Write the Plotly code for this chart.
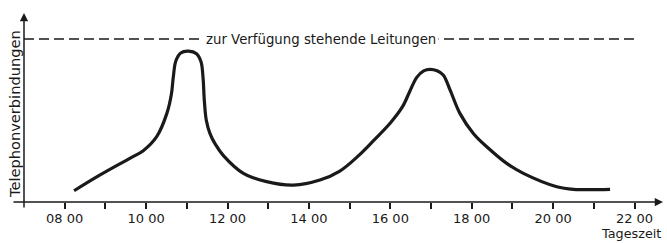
import plotly.graph_objects as go

# --- data ---
hours = [8.23, 8.87, 9.60, 9.93, 10.26, 10.51, 10.62, 10.67, 10.73, 10.85, 11.04, 11.24,
         11.35, 11.40, 11.43, 11.48, 11.57, 11.70, 11.90, 12.39, 12.96, 13.62, 14.27,
         14.76, 15.20, 15.60, 16.00, 16.30, 16.48, 16.65, 16.82, 16.98, 17.15, 17.30,
         17.47, 17.71, 18.04, 18.37, 18.86, 19.27, 20.09, 20.50, 21.40]
connections = [6.9, 16.6, 26.8, 31.5, 40.1, 54.4, 66.0, 77.0, 86.5, 91.5, 92.6, 91.0,
               86.0, 76.0, 62.6, 50.0, 42.0, 35.5, 28.5, 17.6, 12.5, 10.4, 13.5,
               19.0, 28.0, 38.0, 48.5, 58.5, 68.0, 76.5, 80.5, 81.4, 80.5, 77.9,
               68.7, 54.4, 42.1, 33.9, 23.7, 17.6, 9.4, 7.8, 7.8]
capacity = 100
capacity_label = "zur Verfügung stehende Leitungen"
tick_hours = list(range(8, 23))
tick_labels = [f"{h:02d} 00" if h % 2 == 0 else "" for h in tick_hours]
x_title = "Tageszeit"
y_title = "Telephonverbindungen"

FONT = "DejaVu Sans"
INK = "#1a1a1a"

fig = go.Figure()
fig.add_trace(go.Scatter(
    x=hours, y=connections, mode="lines",
    line=dict(color=INK, width=3.2, shape="spline", smoothing=1.0),
    hoverinfo="skip", showlegend=False,
))

fig.add_shape(type="line", xref="x", yref="y", x0=7, x1=22, y0=capacity, y1=capacity,
              line=dict(color=INK, width=1.5, dash="10px,5px"))
fig.add_annotation(x=14.3, y=capacity, xref="x", yref="y", text=capacity_label,
                   showarrow=False, bgcolor="white", borderpad=2,
                   font=dict(family=FONT, size=13.3, color=INK))

# axis arrows
fig.add_annotation(x=1, y=0, xref="paper", yref="y", ax=-651, ay=0, text="",
                   showarrow=True, arrowhead=2, arrowsize=1.1, arrowwidth=1.5,
                   arrowcolor=INK, standoff=0)
fig.add_annotation(x=7, y=1, xref="x", yref="paper", ax=0, ay=196, text="",
                   showarrow=True, arrowhead=2, arrowsize=1.1, arrowwidth=1.5,
                   arrowcolor=INK, standoff=0)

# axis titles
fig.add_annotation(x=0, y=0.466, xref="paper", yref="paper", xshift=-9, text=y_title,
                   textangle=-90, showarrow=False, xanchor="center", yanchor="middle",
                   font=dict(family=FONT, size=14.6, color=INK))
fig.add_annotation(x=1, y=-0.168, xref="paper", yref="paper", text=x_title,
                   showarrow=False, xanchor="right", yanchor="middle",
                   font=dict(family=FONT, size=12.8, color=INK))

fig.update_layout(
    width=667, height=243,
    margin=dict(l=24, r=4, t=13, b=41),
    paper_bgcolor="white", plot_bgcolor="white",
    font=dict(family=FONT, color=INK),
    xaxis=dict(range=[7, 22.7], showgrid=False, zeroline=False, showline=False,
               tickmode="array", tickvals=tick_hours, ticktext=tick_labels,
               ticks="outside", ticklen=6, tickwidth=1.5, tickcolor=INK,
               ticklabelstandoff=-2,
               tickfont=dict(family=FONT, size=13, color=INK)),
    yaxis=dict(range=[0, 116], showgrid=False, zeroline=False, showline=False,
               showticklabels=False, ticks=""),
)

fig.write_html("out.html", config={"displayModeBar": False},
               post_script="document.body.style.margin='0';")
